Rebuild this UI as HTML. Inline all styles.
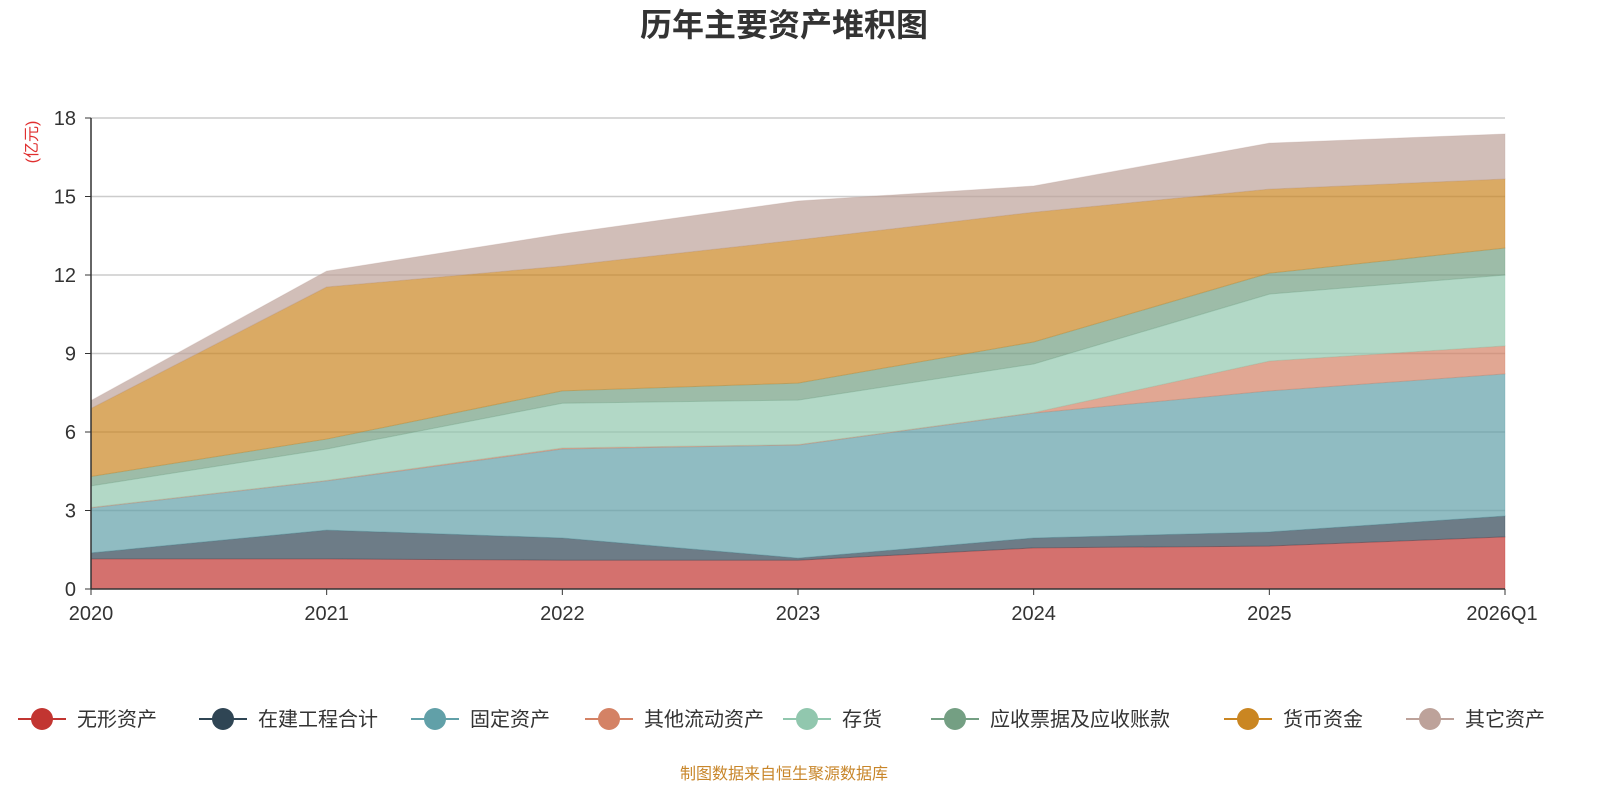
<!DOCTYPE html>
<html><head><meta charset="utf-8">
<style>
body{margin:0;background:#fff;font-family:"Liberation Sans","Noto Sans CJK SC",sans-serif;}
#wrap{position:relative;width:1600px;height:800px;overflow:hidden;}
</style></head>
<body><div id="wrap">
<svg id="chart" width="1600" height="800" xmlns="http://www.w3.org/2000/svg"></svg>
</div>
<script>
const categories=["2020","2021","2022","2023","2024","2025","2026Q1"];
const seriesNames=["无形资产","在建工程合计","固定资产","其他流动资产","存货","应收票据及应收账款","货币资金","其它资产"];
const s_intangible=[1.15,1.15,1.1,1.1,1.57,1.64,1.99];
const s_construction=[0.23,1.1,0.85,0.08,0.38,0.54,0.8];
const s_fixed=[1.72,1.88,3.4,4.32,4.77,5.39,5.43];
const s_otherCurrent=[0.02,0.02,0.04,0.02,0.02,1.14,1.07];
const s_inventory=[0.82,1.2,1.71,1.7,1.86,2.56,2.71];
const s_receivable=[0.36,0.38,0.47,0.65,0.84,0.8,1.03];
const s_cash=[2.6,5.81,4.77,5.47,4.96,3.21,2.64];
const s_other=[0.3,0.61,1.23,1.49,1.0,1.76,1.72];
const yTicks=[0,3,6,9,12,15,18];
const colors=["#c23531","#2f4554","#61a0a8","#d48265","#91c7ae","#749f83","#ca8622","#bda29a"];
const series=[s_intangible,s_construction,s_fixed,s_otherCurrent,s_inventory,s_receivable,s_cash,s_other];
const slugs=["intangible","construction","fixed","other-current","inventory","receivable","cash","other-assets"];
const X0=91,X1=1505,Y0=589,Y1=118,YMAX=18;
const xs=i=>X0+(X1-X0)*i/(categories.length-1);
const ys=v=>Y0-(Y0-Y1)*v/YMAX;
const svg=document.getElementById('chart');
const NS="http://www.w3.org/2000/svg";
function mk(tag,attrs,parent){const e=document.createElementNS(NS,tag);for(const k in attrs)e.setAttribute(k,attrs[k]);(parent||svg).appendChild(e);return e;}
// title
let t=mk('text',{x:784,y:36,'text-anchor':'middle','font-size':32,'font-weight':'bold',fill:'#333'});t.textContent="历年主要资产堆积图";


// grid
yTicks.forEach(v=>{
 if(v>0){const g=mk('line',{x1:X0,x2:X1,y1:ys(v),y2:ys(v),stroke:'#ccc','stroke-width':1.5});
 
 }
 const l=mk('text',{x:76,y:ys(v)+7,'text-anchor':'end','font-size':20,fill:'#333'});l.textContent=v;
 
 
 const tk=mk('line',{x1:X0-6,x2:X0,y1:ys(v),y2:ys(v),stroke:'#333'});
 
 
});
// areas
let base=categories.map(()=>0);
series.forEach((s,k)=>{
 const top=base.map((b,i)=>b+s[i]);
 let d="M"+top.map((v,i)=>xs(i)+","+ys(v)).join(" L");
 for(let i=categories.length-1;i>=0;i--)d+=" L"+xs(i)+","+ys(base[i]);
 d+="Z";
 const p=mk('path',{d:d,fill:colors[k],'fill-opacity':0.7,stroke:colors[k],'stroke-opacity':0.3,'stroke-width':1});
 
 
 base=top;
});
// axes
let ax=mk('line',{x1:X0,x2:X0,y1:Y1,y2:Y0,stroke:'#333','stroke-width':1.5});


ax=mk('line',{x1:X0,x2:X1,y1:Y0,y2:Y0,stroke:'#333','stroke-width':1.5});


categories.forEach((c,i)=>{
 const tk=mk('line',{x1:xs(i),x2:xs(i),y1:Y0,y2:Y0+6,stroke:'#333'});
 
 
 const anchor=i==categories.length-1?'middle':'middle';
 const l=mk('text',{x:i==categories.length-1?xs(i)-3:xs(i),y:620,'text-anchor':anchor,'font-size':20,fill:'#333'});l.textContent=c;
 
 
});
// y unit
let u=mk('text',{x:0,y:0,'font-size':16,fill:'#e03030','text-anchor':'middle',transform:'translate(37,142) rotate(-90)'});u.textContent="(亿元)";


// legend
const lx=[42,223,435,609,807,955,1248,1430];
seriesNames.forEach((n,k)=>{
 const g=mk('g',{});
 
 
 mk('line',{x1:lx[k]-24,x2:lx[k]+24,y1:719,y2:719,stroke:colors[k],'stroke-width':2},g);
 mk('circle',{cx:lx[k],cy:719,r:11,fill:colors[k]},g);
 const tt=mk('text',{x:lx[k]+35,y:726,'font-size':20,fill:'#333'},g);tt.textContent=n;
});
let f=mk('text',{x:784,y:779,'text-anchor':'middle','font-size':16,fill:'#c8862a'});f.textContent="制图数据来自恒生聚源数据库";


</script></body></html>
